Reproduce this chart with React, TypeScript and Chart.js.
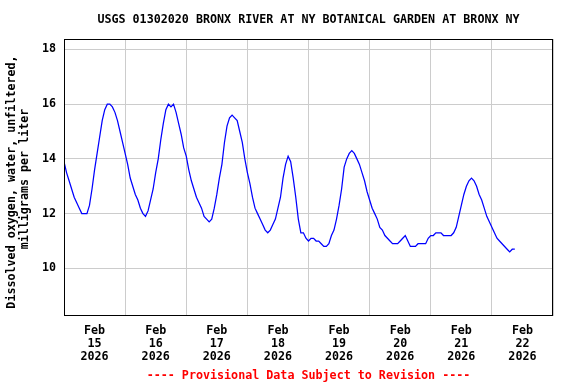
import React, { useEffect, useRef } from 'react';
import { Chart, registerables } from 'chart.js';

Chart.register(...registerables);

const TITLE = 'USGS 01302020 BRONX RIVER AT NY BOTANICAL GARDEN AT BRONX NY';
const Y_TITLE = ['Dissolved oxygen, water, unfiltered,', 'milligrams per liter'];
const NOTE = '---- Provisional Data Subject to Revision ----';
const MONTH = 'Feb';
const YEAR = '2026';
const DAY_LABELS = ['15', '16', '17', '18', '19', '20', '21', '22'];
const Y_TICKS = [10, 12, 14, 16, 18];
const Y_MIN = 8.26;
const Y_MAX = 18.38;
const HOURS_SHOWN = 192;

// Hourly dissolved oxygen values (mg/L), starting Feb 15 00:00
const feb15 = [13.9, 13.5, 13.2, 12.9, 12.6, 12.4, 12.2, 12.0, 12.0, 12.0, 12.3, 12.9, 13.6, 14.2, 14.8, 15.4, 15.8, 16.0, 16.0, 15.9, 15.7, 15.4, 15.0, 14.6];
const feb16 = [14.2, 13.8, 13.3, 13.0, 12.7, 12.5, 12.2, 12.0, 11.9, 12.1, 12.5, 12.9, 13.5, 14.0, 14.7, 15.3, 15.8, 16.0, 15.9, 16.0, 15.7, 15.3, 14.9, 14.4];
const feb17 = [14.1, 13.6, 13.2, 12.9, 12.6, 12.4, 12.2, 11.9, 11.8, 11.7, 11.8, 12.2, 12.7, 13.3, 13.8, 14.6, 15.2, 15.5, 15.6, 15.5, 15.4, 15.0, 14.6, 14.0];
const feb18 = [13.5, 13.1, 12.6, 12.2, 12.0, 11.8, 11.6, 11.4, 11.3, 11.4, 11.6, 11.8, 12.2, 12.6, 13.3, 13.8, 14.1, 13.9, 13.3, 12.6, 11.8, 11.3, 11.3, 11.1];
const feb19 = [11.0, 11.1, 11.1, 11.0, 11.0, 10.9, 10.8, 10.8, 10.9, 11.2, 11.4, 11.8, 12.3, 12.9, 13.7, 14.0, 14.2, 14.3, 14.2, 14.0, 13.8, 13.5, 13.2, 12.8];
const feb20 = [12.5, 12.2, 12.0, 11.8, 11.5, 11.4, 11.2, 11.1, 11.0, 10.9, 10.9, 10.9, 11.0, 11.1, 11.2, 11.0, 10.8, 10.8, 10.8, 10.9, 10.9, 10.9, 10.9, 11.1];
const feb21 = [11.2, 11.2, 11.3, 11.3, 11.3, 11.2, 11.2, 11.2, 11.2, 11.3, 11.5, 11.9, 12.3, 12.7, 13.0, 13.2, 13.3, 13.2, 13.0, 12.7, 12.5, 12.2, 11.9, 11.7];
const feb22 = [11.5, 11.3, 11.1, 11.0, 10.9, 10.8, 10.7, 10.6, 10.7, 10.7];

const FONT_FAMILY = '"DejaVu Sans Mono", monospace';
const FONT_SIZE = 11.7;

export default function App() {
  const canvasRef = useRef<HTMLCanvasElement | null>(null);

  useEffect(() => {
    document.body.style.margin = '0';
    const canvas = canvasRef.current;
    if (!canvas) return;
    const series = [...feb15, ...feb16, ...feb17, ...feb18, ...feb19, ...feb20, ...feb21, ...feb22];
    const points = series.map((v, i) => ({ x: i, y: v }));

    const textPlugin = {
      id: 'usgsText',
      afterDraw(chart: any) {
        const { ctx, chartArea: a } = chart;
        ctx.save();
        ctx.strokeStyle = '#000000';
        ctx.lineWidth = 1;
        ctx.strokeRect(a.left + 0.5, a.top + 0.5, a.right - a.left - 1, a.bottom - a.top - 1);
        ctx.font = `bold ${FONT_SIZE}px ${FONT_FAMILY}`;
        ctx.fillStyle = '#000000';
        ctx.textAlign = 'center';
        ctx.textBaseline = 'middle';
        ctx.fillText(TITLE, (a.left + a.right) / 2, 20);
        ctx.save();
        ctx.translate(12, 182);
        ctx.rotate(-Math.PI / 2);
        ctx.fillText(Y_TITLE[0], 0, 0);
        ctx.restore();
        ctx.save();
        ctx.translate(25, 179);
        ctx.rotate(-Math.PI / 2);
        ctx.fillText(Y_TITLE[1], 0, 0);
        ctx.restore();
        ctx.fillStyle = '#ff0000';
        ctx.fillText(NOTE, (a.left + a.right) / 2, 375.5);
        ctx.restore();
      },
    };

    const tickFont = { family: FONT_FAMILY, size: FONT_SIZE, weight: 'bold' as const, lineHeight: 1.08 };

    const chart = new Chart(canvas, {
      type: 'line',
      data: {
        datasets: [
          {
            data: points,
            borderColor: '#0000ff',
            borderWidth: 1.25,
            pointRadius: 0,
            fill: false,
            tension: 0,
          },
        ],
      },
      options: {
        animation: false,
        responsive: false,
        devicePixelRatio: 1,
        layout: { padding: { top: 39, right: 23, left: 0, bottom: 0 } },
        plugins: { legend: { display: false }, tooltip: { enabled: false }, title: { display: false } },
        scales: {
          x: {
            type: 'linear',
            min: 0,
            max: HOURS_SHOWN,
            afterFit: (s: any) => { s.height = 68; },
            afterBuildTicks: (s: any) => {
              const t = [];
              for (let h = 0; h <= HOURS_SHOWN; h += 12) t.push({ value: h });
              s.ticks = t;
            },
            grid: {
              drawTicks: false,
              color: (c: any) => (c.tick && c.tick.value % 24 === 0 ? '#cccccc' : 'rgba(0,0,0,0)'),
              lineWidth: 1,
            },
            border: { display: false },
            ticks: {
              autoSkip: false,
              maxRotation: 0,
              minRotation: 0,
              padding: 9,
              color: '#000000',
              font: tickFont,
              callback: (v: any) => {
                const n = Number(v);
                if (n % 24 !== 12) return '';
                return [MONTH, DAY_LABELS[(n - 12) / 24], YEAR];
              },
            },
          },
          y: {
            type: 'linear',
            min: Y_MIN,
            max: Y_MAX,
            afterFit: (s: any) => { s.width = 64; },
            afterBuildTicks: (s: any) => { s.ticks = Y_TICKS.map((v) => ({ value: v })); },
            grid: { drawTicks: false, color: '#cccccc', lineWidth: 1 },
            border: { display: false },
            ticks: {
              padding: 8,
              color: '#000000',
              font: tickFont,
              callback: (v: any) => String(v),
            },
          },
        },
      },
      plugins: [textPlugin],
    });
    return () => chart.destroy();
  }, []);

  return (
    <div style={{ width: 576, height: 384 }}>
      <canvas ref={canvasRef} width={576} height={384} style={{ display: 'block', width: 576, height: 384 }} />
    </div>
  );
}
